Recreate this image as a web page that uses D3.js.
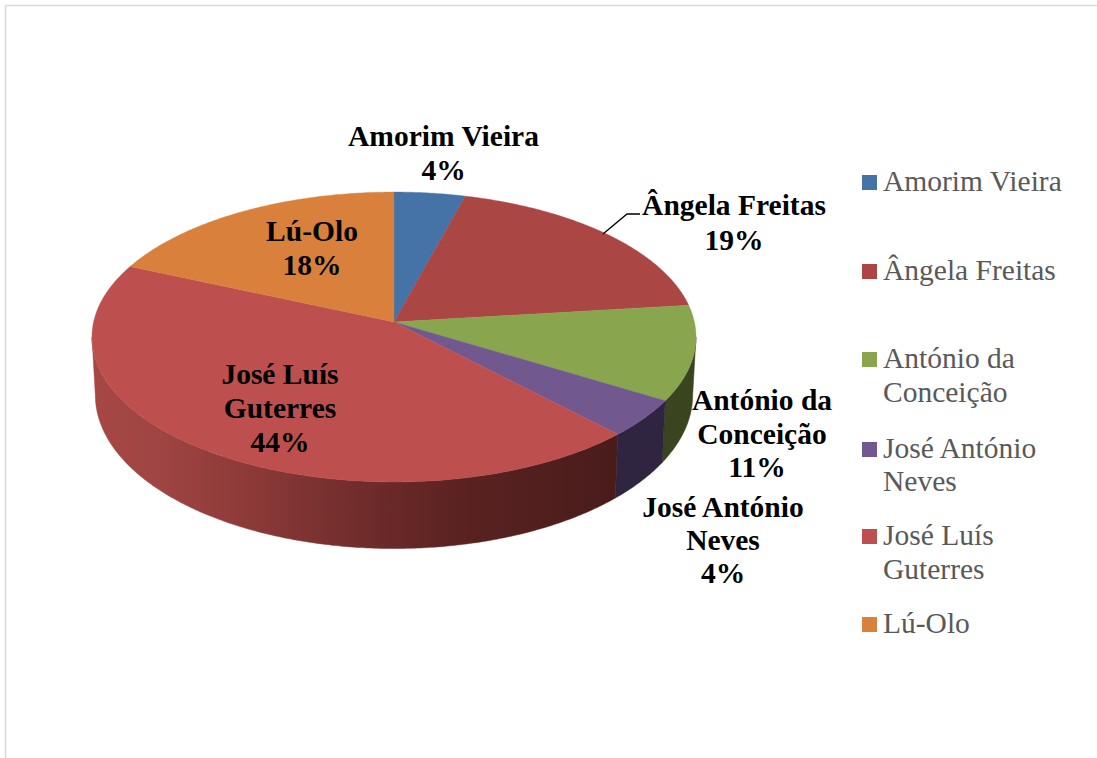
<!DOCTYPE html>
<html><head><meta charset="utf-8">
<script src="https://d3js.org/d3.v7.min.js"></script>
<style>html,body{margin:0;padding:0;background:#fff;overflow:hidden}svg{display:block}
text{font-family:"Liberation Serif","Times New Roman",serif}</style></head>
<body><div id="chart"></div>
<script>
const candidates = ["Amorim Vieira","Ângela Freitas","António da Conceição","José António Neves","José Luís Guterres","Lú-Olo"];
const shares = [4.2,18.9,10.6,4.2,43.7,18.4];
const percentLabels = ["4%","19%","11%","4%","44%","18%"];
const topColors = ["#4572a7","#aa4643","#89a54e","#71588f","#bd504e","#d9803c"];
const sideColors = ["#2b4566","#672a29","#3a4520","#2f2540","url(#sideGrad)","#84501f"];
const legendLines = [["Amorim Vieira"],["Ângela Freitas"],["António da","Conceição"],["José António","Neves"],["José Luís","Guterres"],["Lú-Olo"]];
const legendBaselines = [[191],[280],[368,402],[458,491],[545,579],[633]];
const dataLabelLines = [
  [{t:"Amorim Vieira",x:443.5,y:146},{t:percentLabels[0],x:443.5,y:180}],
  [{t:"Ângela Freitas",x:734,y:215},{t:percentLabels[1],x:734,y:250}],
  [{t:"António da",x:762,y:410},{t:"Conceição",x:762,y:444},{t:percentLabels[2],x:757,y:477}],
  [{t:"José António",x:723,y:517},{t:"Neves",x:723,y:550},{t:percentLabels[3],x:723,y:583}],
  [{t:"José Luís",x:280,y:384},{t:"Guterres",x:280,y:418},{t:percentLabels[4],x:280,y:452}],
  [{t:"Lú-Olo",x:312,y:241},{t:percentLabels[5],x:312,y:275}]
];

const W=1097,H=758;
const svg=d3.select("#chart").append("svg").attr("width",W).attr("height",H);
const cx=394,cy=322,R=143.4,Rx=300.4,k=-0.1034;
// circle angle (clockwise from the top) -> perspective projection onto the page
const project=a=>{const u=Math.sin(a),v=-Math.cos(a),w=1+k*v;return [cx+Rx*u/w,cy+R*v/w];};
const lower=p=>[cx+(p[0]-cx)*0.989,cy+(p[1]-cy)*1.06+57];
const arcPoints=(a0,a1)=>{const n=Math.max(2,Math.ceil((a1-a0)/0.01));return d3.range(n+1).map(i=>project(a0+(a1-a0)*i/n));};
const line=d3.line();

const defs=svg.append("defs");
const grad=defs.append("linearGradient").attr("id","sideGrad").attr("gradientUnits","userSpaceOnUse")
  .attr("x1",92).attr("x2",620).attr("y1",0).attr("y2",0);
[[0,"#a54745"],[0.12,"#a04543"],[0.3,"#8c3a38"],[0.5,"#712d2c"],[0.7,"#5a2221"],[1,"#481c1b"]]
  .forEach(s=>grad.append("stop").attr("offset",s[0]).attr("stop-color",s[1]));

// frame
svg.append("path").attr("d",line([[5.5,H],[5.5,5.5],[W,5.5]])).attr("fill","none").attr("stroke","#d9d9d9").attr("stroke-width",1.6);

const arcs=d3.pie().sort(null).value(d=>d)(shares);

// side wall (front half only, from silhouette point to silhouette point)
const frontMin=Math.PI*0.533, frontMax=Math.PI*1.467;
svg.append("g").selectAll("path").data(arcs).join("path")
  .filter(d=>d.endAngle>frontMin&&d.startAngle<frontMax)
  .attr("d",d=>{
    const top=arcPoints(Math.max(d.startAngle,frontMin),Math.min(d.endAngle,frontMax));
    const bottom=top.map(lower).reverse();
    return line(top.concat(bottom))+"Z";
  })
  .attr("fill",d=>sideColors[d.index]).attr("stroke",d=>sideColors[d.index]).attr("stroke-width",0.5);

// top face
svg.append("g").selectAll("path").data(arcs).join("path")
  .attr("d",d=>line([[cx,cy]].concat(arcPoints(d.startAngle,d.endAngle)))+"Z")
  .attr("fill",d=>topColors[d.index]).attr("stroke",d=>topColors[d.index]).attr("stroke-width",0.4);

// leader line for the Ângela Freitas label
svg.append("path").attr("d",line([[603,234],[627,214],[640,214]])).attr("fill","none").attr("stroke","#000").attr("stroke-width",1.3);

// data labels
svg.append("g").selectAll("text").data(dataLabelLines.flat()).join("text")
  .attr("x",d=>d.x).attr("y",d=>d.y).attr("text-anchor","middle")
  .attr("font-size",29.5).attr("font-weight","bold").attr("fill","#000").text(d=>d.t);

// legend
const legend=svg.append("g").selectAll("g").data(candidates).join("g");
legend.append("rect").attr("x",862).attr("width",15).attr("height",15)
  .attr("y",(d,i)=>legendBaselines[i][0]-16).attr("fill",(d,i)=>topColors[i]);
legend.each(function(d,i){
  d3.select(this).selectAll("text").data(legendLines[i]).join("text")
    .attr("x",883).attr("y",(t,j)=>legendBaselines[i][j])
    .attr("font-size",29.5).attr("fill","#595959").text(t=>t);
});
</script></body></html>
